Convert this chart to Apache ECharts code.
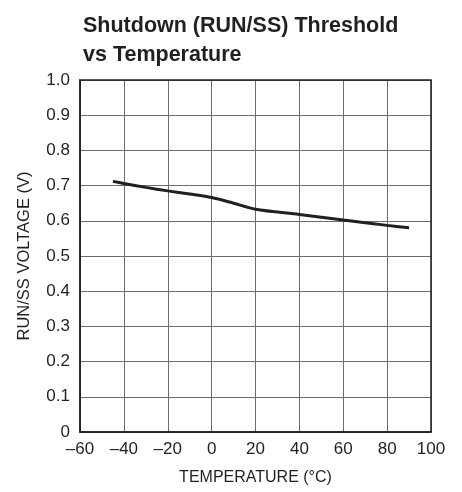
<!DOCTYPE html>
<html><head><meta charset="utf-8">
<script src="https://cdn.jsdelivr.net/npm/echarts@6/dist/echarts.min.js"></script>
<style>html,body{margin:0;padding:0;background:#fff}#c{width:462px;height:492px}</style>
</head><body><div id="c"></div>
<script>
const temps = [-45, -40, -30, -20, -10, 0, 10, 20, 40, 60, 80, 90];
const volts = [0.712, 0.706, 0.695, 0.685, 0.676, 0.666, 0.650, 0.633, 0.618, 0.602, 0.587, 0.580];
const xTicks = [-60, -40, -20, 0, 20, 40, 60, 80, 100];
const yTicks = [0, 0.1, 0.2, 0.3, 0.4, 0.5, 0.6, 0.7, 0.8, 0.9, 1.0];
const FONT = '"Liberation Sans Narrow", "Liberation Sans", Arial, sans-serif';
const chart = echarts.init(document.getElementById('c'), null, {renderer: 'canvas'});
chart.setOption({
  animation: false,
  title: {
    text: 'Shutdown (RUN/SS) Threshold\nvs Temperature',
    left: 78, top: 7,
    textStyle: {fontFamily: FONT, fontWeight: 'bold', fontSize: 21.5, color: '#231f20', lineHeight: 29}
  },
  grid: {left: 80, right: 31, top: 80, bottom: 60},
  xAxis: {
    type: 'value', min: xTicks[0], max: xTicks[xTicks.length - 1], interval: 20,
    name: 'TEMPERATURE (°C)', nameLocation: 'middle', nameGap: 38,
    nameTextStyle: {fontFamily: FONT, fontSize: 16, color: '#231f20'},
    axisLine: {show: true, onZero: false, lineStyle: {color: '#231f20', width: 1.5}},
    axisTick: {show: false},
    axisLabel: {fontFamily: FONT, fontSize: 17, color: '#231f20', margin: 9,
      formatter: v => (v < 0 ? '\u2013' + Math.abs(v) : String(v))},
    splitLine: {show: true, lineStyle: {color: '#6d6d6d', width: 1}}
  },
  yAxis: {
    type: 'value', min: yTicks[0], max: yTicks[yTicks.length - 1], interval: 0.1,
    name: 'RUN/SS VOLTAGE (V)', nameLocation: 'middle', nameGap: 47, nameRotate: 90,
    nameTextStyle: {fontFamily: FONT, fontSize: 16.5, color: '#231f20'},
    axisLine: {show: true, onZero: false, lineStyle: {color: '#231f20', width: 1.5}},
    axisTick: {show: false},
    axisLabel: {fontFamily: FONT, fontSize: 17, color: '#231f20', margin: 10,
      formatter: v => (Math.abs(v) < 1e-9 ? '0' : v.toFixed(1))},
    splitLine: {show: true, lineStyle: {color: '#6d6d6d', width: 1}}
  },
  series: [{
    type: 'line', data: temps.map((t, i) => [t, volts[i]]),
    smooth: 0.3, showSymbol: false,
    lineStyle: {color: '#231f20', width: 3}
  }]
});
const g = chart.getModel().getComponent('grid').coordinateSystem.getRect();
chart.setOption({graphic: [{type: 'rect', shape: {x: g.x, y: g.y, width: g.width, height: g.height},
  style: {fill: 'none', stroke: '#231f20', lineWidth: 1.5}, silent: true, z: 10}]});
</script>
</body></html>
